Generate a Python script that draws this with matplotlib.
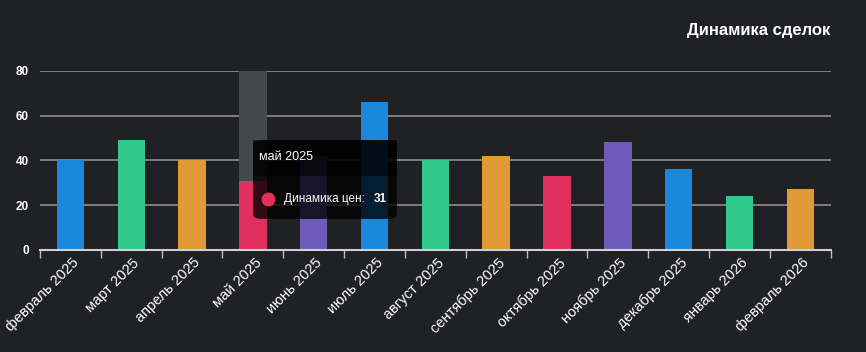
import numpy as np
import matplotlib.pyplot as plt
from matplotlib.patches import FancyBboxPatch, Rectangle
from matplotlib.lines import Line2D

months = ["февраль 2025", "март 2025", "апрель 2025", "май 2025", "июнь 2025",
          "июль 2025", "август 2025", "сентябрь 2025", "октябрь 2025",
          "ноябрь 2025", "декабрь 2025", "январь 2026", "февраль 2026"]
values = [40, 49, 40, 31, 42, 66, 40, 42, 33, 48, 36, 24, 27]
palette = ["#1a87da", "#2ec98b", "#e19a35", "#e0305e", "#6e5bb9"]
y_ticks = [0, 20, 40, 60, 80]
hover_idx = 3
series_name = "Динамика цен:"

BG = "#202124"
plt.rcParams['font.family'] = ['Liberation Sans', 'DejaVu Sans']

fig = plt.figure(figsize=(8.66, 3.52), dpi=100, facecolor=BG)
ax = fig.add_axes([40 / 866, 102 / 352, 790.7 / 866, 179.3 / 352])
ax.set_facecolor(BG)

x = np.arange(len(months))
colors = [palette[i % len(palette)] for i in range(len(months))]

# hover highlight column
ax.bar(hover_idx, 80, width=0.45, color="#44474b", zorder=1)
ax.bar(x, values, width=0.45, color=colors, zorder=2)

ax.set_xlim(-0.5, len(months) - 0.5)
ax.set_ylim(0, 80)
ax.set_yticks(y_ticks)
ax.set_yticklabels([str(v) for v in y_ticks], color="white", fontsize=8.5,
                   fontweight="bold")
ax.tick_params(axis="y", length=0, pad=8)
for v in y_ticks[1:]:
    ax.axhline(v, color="#8e8e8e", lw=1.2, zorder=0.5)

for s in ["top", "right", "left"]:
    ax.spines[s].set_visible(False)
ax.spines["bottom"].set_color("#d0d0d0")
ax.spines["bottom"].set_linewidth(1.5)

# ticks on category boundaries, labels at centres
ax.set_xticks(np.arange(-0.5, len(months), 1.0))
ax.set_xticklabels([])
ax.tick_params(axis="x", length=6, color="#bdbdbd", width=1)
for i, m in enumerate(months):
    ax.annotate(m, xy=(i, 0), xycoords="data", xytext=(1, -4),
                textcoords="offset points", rotation=45, ha="right",
                va="top", rotation_mode="anchor", color="white",
                fontsize=10.5, annotation_clip=False)

# title
fig.text(830 / 866, 1 - 30 / 352, "Динамика сделок", ha="right", va="center",
         color="white", fontsize=12, fontweight="bold")

# tooltip
tx0, ty0, tw, th = 253, 140, 144, 79
box = FancyBboxPatch((tx0 / 866, 1 - (ty0 + th) / 352), tw / 866, th / 352,
                     boxstyle="round,pad=0,rounding_size=0.012",
                     transform=fig.transFigure, facecolor="#000000",
                     alpha=0.78, edgecolor="none", zorder=5)
fig.patches.append(box)
head = Rectangle((tx0 / 866, 1 - (ty0 + 36) / 352), tw / 866, 36 / 352,
                 transform=fig.transFigure, facecolor="#000000", alpha=0.55,
                 edgecolor="none", zorder=5)
fig.patches.append(head)
fig.text((tx0 + 6) / 866, 1 - 157 / 352, months[hover_idx], color="white",
         fontsize=9, ha="left", va="center", zorder=6)
fig.add_artist(Line2D([268 / 866], [1 - 199 / 352], transform=fig.transFigure,
                      marker="o", markersize=9, color=palette[3],
                      linestyle="none", zorder=6))
fig.text(284 / 866, 1 - 199 / 352, series_name, color="white", fontsize=8.5,
         ha="left", va="center", zorder=6)
fig.text(387 / 866, 1 - 199 / 352, str(values[hover_idx]), color="white",
         fontsize=8.5, fontweight="bold", ha="right", va="center", zorder=6)

fig.savefig("out.png", dpi=100, facecolor=BG)
